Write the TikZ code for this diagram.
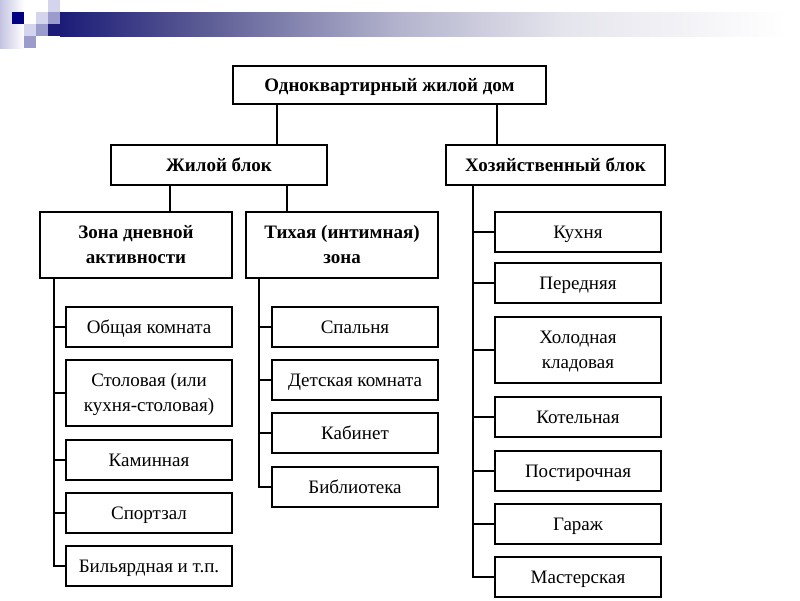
\documentclass[tikz,border=0pt]{standalone}
\usepackage{fontspec}
\setmainfont{Liberation Serif}
\definecolor{navy}{HTML}{000080}
\definecolor{barA}{HTML}{1C1C78}
\definecolor{barB}{HTML}{5A5A94}
\definecolor{barC}{HTML}{B4B4CE}
\definecolor{barD}{HTML}{E4E4EC}
\definecolor{sqL}{HTML}{D4D4EC}
\definecolor{sqM}{HTML}{9C9CCC}
\definecolor{fadeL}{HTML}{C4C4E2}
\tikzset{
  mainbox/.style={draw, line width=2.7pt, inner sep=0pt, font=\fontsize{19}{25}\selectfont\bfseries, align=center, text height=12.6pt, text depth=0pt},
  subbox/.style={draw, line width=1.8pt, inner sep=0pt, minimum width=166pt, minimum height=40pt, font=\fontsize{19}{25}\selectfont, align=center, text height=12.6pt, text depth=0pt},
  twoline/.style={text height=37.6pt, text depth=0pt, minimum height=66pt},
  thick link/.style={line width=2.4pt},
  thin link/.style={line width=1.8pt}
}
\begin{document}
\begin{tikzpicture}[x=1pt,y=-1pt]
\useasboundingbox (0,0) rectangle (800,600);
% decoration
\shade[left color=fadeL, right color=white] (0,0) rectangle (24,48);
\fill[sqL] (48,0) rectangle (60,12);
\fill[navy] (12,12) rectangle (24,24);
\fill[sqL] (36,12) rectangle (48,24);
\fill[sqM] (48,12) rectangle (60,24);
\fill[sqL] (24,24) rectangle (36,36);
\fill[sqM] (36,24) rectangle (48,36);
\fill[sqM] (24,36) rectangle (36,48);
\fill[barA] (48,24) rectangle (60.5,36);
\shade[left color=barA, right color=barB] (60,12) rectangle (200.5,36);
\shade[left color=barB, right color=barC] (200,12) rectangle (400.5,36);
\shade[left color=barC, right color=barD] (400,12) rectangle (560.5,36);
\shade[left color=barD, right color=white] (560,12) rectangle (787,36);

% main boxes
\node[mainbox, minimum width=313pt, minimum height=38pt] (top) at (389.5,85) {Одноквартирный жилой дом};
\node[mainbox, minimum width=216pt, minimum height=40pt] (zhil) at (219,165) {Жилой блок};
\node[mainbox, minimum width=219pt, minimum height=40pt] (hoz) at (555.5,165) {Хозяйственный блок};
\node[mainbox, twoline, minimum width=192pt] (zona) at (136,245) {Зона дневной\\активности};
\node[mainbox, twoline, minimum width=192pt] (tih) at (342,245) {Тихая (интимная)\\зона};

% left children
\node[subbox] (obsh) at (149,327) {Общая комната};
\node[subbox, twoline] (stol) at (149,393) {Столовая (или\\кухня-столовая)};
\node[subbox] (kam) at (149,460) {Каминная};
\node[subbox] (sport) at (149,513) {Спортзал};
\node[subbox] (bil) at (149,566) {Бильярдная и т.п.};

% middle children
\node[subbox] (spal) at (355,327) {Спальня};
\node[subbox] (det) at (355,380) {Детская комната};
\node[subbox] (kab) at (355,433) {Кабинет};
\node[subbox] (bib) at (355,487) {Библиотека};

% right children
\node[subbox] (kuh) at (578,232) {Кухня};
\node[subbox] (per) at (578,283) {Передняя};
\node[subbox, twoline] (hol) at (578,350) {Холодная\\кладовая};
\node[subbox] (kot) at (578,417) {Котельная};
\node[subbox] (pos) at (578,471) {Постирочная};
\node[subbox] (gar) at (578,524) {Гараж};
\node[subbox] (mas) at (578,577) {Мастерская};

% connector coordinates
\coordinate (c1) at (277,0);
\coordinate (c2) at (497,0);
\coordinate (c3) at (170,0);
\coordinate (c4) at (287,0);
\coordinate (v1) at (54,0);
\coordinate (v2) at (259,0);
\coordinate (v3) at (473,0);

\draw[thick link] (top.south -| c1) -- (zhil.north -| c1);
\draw[thick link] (top.south -| c2) -- (hoz.north -| c2);
\draw[thick link] (zhil.south -| c3) -- (zona.north -| c3);
\draw[thick link] (zhil.south -| c4) -- (tih.north -| c4);

\draw[thin link] (zona.south -| v1) |- (bil.west);
\foreach \n in {obsh,stol,kam,sport} \draw[thin link] (v1 |- \n.west) -- (\n.west);
\draw[thin link] (tih.south -| v2) |- (bib.west);
\foreach \n in {spal,det,kab} \draw[thin link] (v2 |- \n.west) -- (\n.west);
\draw[thin link] (hoz.south -| v3) |- (mas.west);
\foreach \n in {kuh,per,hol,kot,pos,gar} \draw[thin link] (v3 |- \n.west) -- (\n.west);
\end{tikzpicture}
\end{document}
